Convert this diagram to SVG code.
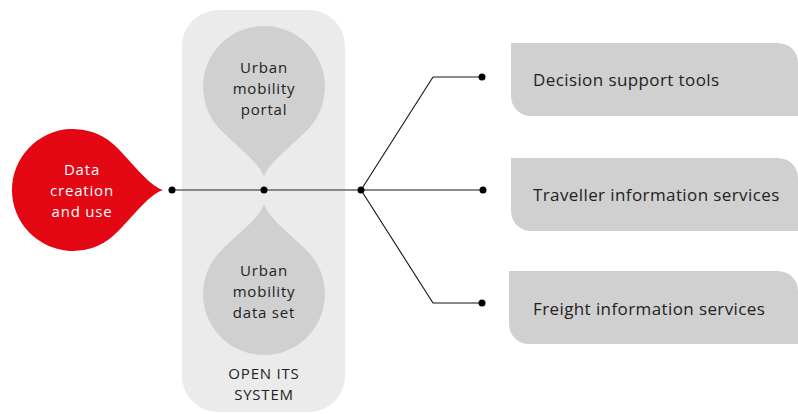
<svg xmlns="http://www.w3.org/2000/svg" xmlns:xlink="http://www.w3.org/1999/xlink" width="798" height="414" viewBox="0 0 798 414">
<style>
text{font-family:"Open Sans","Liberation Sans",sans-serif;font-size:17px;letter-spacing:0.4px;fill:#222}
.c{text-anchor:middle;font-size:15px;letter-spacing:0.8px}
.w{fill:#fff}
.box{fill:#d0d0d0}
.g{fill:#d0d0d0}
.line{stroke:#666;stroke-width:1.4;fill:none}
.dia{stroke:#111;stroke-width:1.1;fill:none}
.dot{fill:#000}
</style>
<defs>
<path id="drop" d="M90,0 C75,-4 54.5,-33.8 39.2,-46.7 A61,61 0 1 0 39.2,46.7 C54.5,33.8 75,4 90,0 Z"/>
</defs>
<g id="open-its-system">
<rect x="182" y="10" width="163" height="402" rx="36" fill="#ebebeb"/>
<text class="c" x="264" y="379">OPEN ITS</text>
<text class="c" x="264" y="400">SYSTEM</text>
</g>
<g id="data-creation">
<use xlink:href="#drop" transform="translate(73,190)" fill="#e30613"/>
<text class="c w" x="82" y="175">Data</text>
<text class="c w" x="82" y="196">creation</text>
<text class="c w" x="82" y="217">and use</text>
</g>
<g id="portal">
<use xlink:href="#drop" transform="translate(264,87) rotate(90)" class="g"/>
<text class="c" x="264" y="73">Urban</text>
<text class="c" x="264" y="94">mobility</text>
<text class="c" x="264" y="115">portal</text>
</g>
<g id="dataset">
<use xlink:href="#drop" transform="translate(264,294) rotate(-90)" class="g"/>
<text class="c" x="264" y="276">Urban</text>
<text class="c" x="264" y="297">mobility</text>
<text class="c" x="264" y="318">data set</text>
</g>
<g id="decision-support">
<path class="box" d="M511,43 H778 A20,20 0 0 1 798,63 V116 H531 A20,20 0 0 1 511,96 Z"/>
<text x="533" y="86">Decision support tools</text>
</g>
<g id="traveller-info">
<path class="box" d="M511,158 H778 A20,20 0 0 1 798,178 V231 H531 A20,20 0 0 1 511,211 Z"/>
<text x="533" y="201">Traveller information services</text>
</g>
<g id="freight-info">
<path class="box" d="M509,271 H778 A20,20 0 0 1 798,291 V344 H529 A20,20 0 0 1 509,324 Z"/>
<text x="533" y="315">Freight information services</text>
</g>
<g id="connectors">
<path class="line" d="M172,190 H483"/>
<path class="dia" d="M361,190 L433,77"/>
<path class="line" d="M433,77 H482"/>
<path class="dia" d="M361,190 L433,303 H482"/>
<circle class="dot" cx="172" cy="190" r="3.5"/>
<circle class="dot" cx="264" cy="190" r="3.5"/>
<circle class="dot" cx="361" cy="190" r="3.5"/>
<circle class="dot" cx="482" cy="77" r="3.5"/>
<circle class="dot" cx="483" cy="190" r="3.5"/>
<circle class="dot" cx="482" cy="303" r="3.5"/>
</g>
</svg>
